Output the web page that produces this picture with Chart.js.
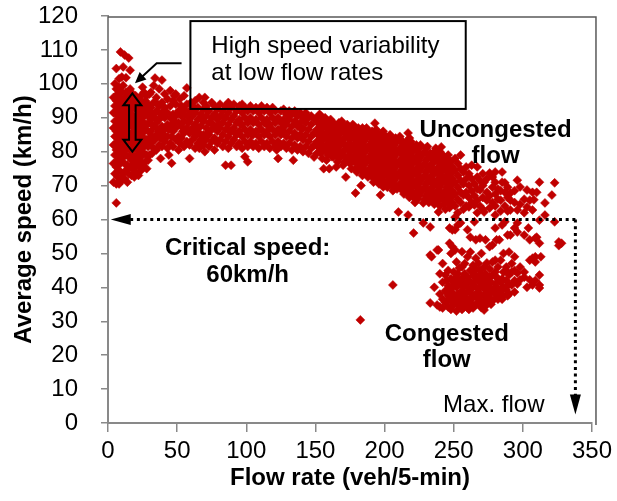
<!DOCTYPE html>
<html>
<head>
<meta charset="utf-8">
<script src="https://cdn.jsdelivr.net/npm/chart.js@4.4.1/dist/chart.umd.min.js"></script>
<style>
  html, body { margin: 0; padding: 0; background: #fff; }
  #wrap { width: 617px; height: 501px; }
</style>
</head>
<body>
<div id="wrap"><canvas id="speedFlowChart" width="617" height="501"></canvas></div>
<script>
const flowTicks = [0, 50, 100, 150, 200, 250, 300, 350]
const speedTicks = [0, 10, 20, 30, 40, 50, 60, 70, 80, 90, 100, 110, 120]

// each row: flow rate (veh/5-min), then the average speeds (km/h) read at that flow
const lowFlowRows = [
    [4, 71, 76.5, 82, 87, 91.5, 96],
    [5, 73.5, 79, 84.5, 89, 93.5, 100],
    [6, 64.9, 70.5, 75.5, 80.5, 86, 91, 95, 98.5, 104.5],
    [7, 72.5, 77.5, 83, 88, 92.5, 97],
    [8, 70.5, 74.5, 79.5, 85, 89.5, 94, 99, 101.5],
    [9, 72, 76.5, 81.5, 87, 91, 95.5, 109.4],
    [10, 71.5, 78, 83.5, 88.5, 93, 97.5, 102],
    [11, 73.5, 80, 85.5, 90, 94.5, 99.5, 105],
    [12, 72, 76.5, 82, 87, 91.5, 96, 108.5],
    [13, 74.5, 79, 84, 89, 93, 97.5, 101.8],
    [14, 71, 76, 81, 86, 90.5, 95],
    [15, 73.5, 78.5, 83.5, 88, 92, 96.5, 107.6],
    [16, 75.5, 80.5, 85, 89.5, 94, 98.5, 104],
    [17, 73, 77.5, 82.5, 87.5, 91, 95.5],
    [18, 75, 79, 84, 88.5, 93, 97],
    [19, 72.5, 76.5, 81, 86, 90, 94.5],
    [20, 74, 78.5, 83.5, 88, 92.5, 96.5],
    [21, 76, 80.5, 85, 89.5, 94],
    [22, 73, 77.5, 82, 86.5, 91, 95.5],
    [23, 75.5, 79.5, 84, 88.5, 93],
    [24, 74.5, 78.5, 83, 87.5, 92, 96.5],
    [25, 76.5, 81, 85.5, 90, 94.5, 99],
    [26, 75.5, 79.5, 84, 88.5, 93, 97.5],
    [27, 77, 82, 86.5, 91, 95],
    [28, 75, 79, 83.5, 88, 92.5, 96.5],
    [29, 77.5, 81.5, 86, 90.5, 94],
    [30, 79, 84, 88.5, 92, 97]
]

const freeFlowRows = [
    [31, 82.5, 86, 89.5, 93, 97.5], [32, 79.5, 84.5, 91], [33, 81, 87.5, 94.5, 99.5],
    [34, 83.5, 90, 101.7], [35, 80.5, 85, 88.5, 92, 96], [36, 86.5, 94], [37, 82, 86, 89.5, 93.5, 98.5],
    [38, 78, 84, 91], [39, 81.5, 87.5, 94.5, 101.1], [40, 85, 92], [41, 83, 86.5, 90, 93, 97],
    [43, 81, 84.5, 88, 91.5, 95.5], [44, 79, 86.5], [45, 82.5, 90, 93.5, 98],
    [46, 76.6, 84.5, 88], [47, 81.5, 86, 91, 95], [48, 89, 96.5], [49, 83.5, 87, 90.5, 94, 97],
    [51, 80.5, 84.5, 88.5, 92], [52, 82.5, 95.5], [53, 84, 87.5, 90.5, 93.5], [54, 86, 91.5],
    [55, 81.5, 85.5, 89, 92.5, 96.5], [57, 83, 87, 90.5, 94, 98.8], [58, 88.5], [59, 78, 82, 85.5, 89, 92],
    [60, 94.5], [61, 83.5, 87, 90.5, 93.5], [62, 85.5, 92], [63, 81, 84.5, 88, 91.5, 95], [64, 86.5],
    [65, 82.5, 89.5, 93], [66, 81, 85.5, 96], [67, 83.5, 87.5, 91], [68, 89.5], [69, 82, 85, 89, 92.5, 94.5],
    [70, 80, 96], [71, 83.5, 87, 90.5, 93.5], [72, 85.5, 92], [73, 81.5, 85, 88.5, 92], [75, 83, 86.5, 90, 94.5],
    [76, 88], [77, 80.5, 84, 87.5, 91, 93.5], [79, 82.5, 86, 89.5, 92.5], [80, 88], [81, 83.5, 87, 90.5, 94],
    [83, 81.5, 85, 88.5, 92], [84, 90], [85, 76, 83, 86.5, 90, 93.5], [87, 81, 84.5, 88, 91.5, 94.5],
    [88, 86], [89, 76, 82.5, 86, 89.5, 93], [91, 83.5, 87, 90.5, 94], [92, 85.5], [93, 81.5, 85, 88.5, 92],
    [95, 82.5, 86, 89.5, 93.5], [96, 88], [97, 81, 84.5, 88, 91.5, 94], [99, 78.5, 83, 86.5, 90, 93],
    [101, 77, 81.5, 85, 88.5, 92], [103, 83, 86.5, 90, 93.5], [104, 85], [105, 81.5, 85, 88.5, 92],
    [107, 82.5, 86, 89.5, 93], [109, 81, 84.5, 88, 91.5], [110, 86.5], [111, 83, 86.5, 90, 93.5],
    [113, 81.5, 85, 88.5, 92], [115, 82.5, 86, 89.5, 93], [116, 87.5], [117, 81, 84.5, 88, 91.5],
    [119, 83, 86.5, 90, 93], [121, 81.5, 85, 88.5, 92], [122, 80.5], [123, 78, 83, 86.5, 90],
    [125, 81.5, 85, 88.5, 92], [126, 87], [127, 82.5, 86, 89.5, 92.5], [129, 81, 84.5, 88, 91],
    [131, 82.5, 86, 89.5, 92], [133, 80.5, 84, 87.5, 91], [134, 77.5], [135, 82, 85.5, 89, 92],
    [137, 80.5, 84, 87.5, 90.5], [139, 81.5, 85, 88.5, 91.5], [140, 86.5], [141, 80, 83.5, 87, 90],
    [143, 81.5, 85, 88.5, 91.5], [145, 79.5, 83, 86.5, 90], [147, 81, 84.5, 88, 90.5],
    [149, 78.4, 82, 85.5, 89.6]
]

const transitionRows = [
    [151, 79.5, 83, 86.5, 90], [152, 81.5, 85, 88.5], [153, 81, 84.5, 88, 91], [154, 79.5, 83, 86.5, 90.5],
    [155, 78, 82, 85.5, 89], [156, 75], [157, 80.5, 84, 87.5, 90], [158, 77.5, 81, 84.5, 88],
    [159, 79, 82.5, 86, 89], [160, 75], [161, 80, 83.5, 87, 89.5], [162, 78.5, 81.5, 85, 88.5],
    [163, 78.5, 82, 85.5, 88.5], [164, 80.5, 84, 87.5], [165, 75.5, 80, 83.5, 87], [166, 77, 79.5, 83, 86.5],
    [167, 78, 81.5, 85, 88.5], [168, 80, 83.5, 87], [169, 79.5, 83, 86.5, 89], [170, 76, 79, 82.5, 86],
    [171, 77, 80.5, 84, 87.5], [172, 72.5], [173, 78.5, 82, 85.5, 88], [174, 77.5, 80.5, 84, 87],
    [175, 76.5, 80, 83.5, 87], [176, 75, 78.5, 82, 85.5], [177, 78, 81.5, 85, 88], [178, 77, 80.5, 84, 87.5],
    [179, 67.8, 75, 79, 82.5, 86], [180, 74, 78, 81.5, 85], [181, 76.5, 80, 83.5, 87],
    [182, 75.5, 79, 82.5, 86], [183, 70, 74.5, 78, 81.5, 85], [184, 73, 76.5, 80, 83.5, 87],
    [185, 76, 79.5, 83, 86.5], [186, 74.5, 78, 81.5, 85], [187, 73.5, 77, 80.5, 84, 87], [188, 72.5],
    [189, 75, 78.5, 82, 85.5], [190, 73.5, 77, 80.5, 84], [191, 72.5, 76, 79.5, 83, 86],
    [192, 71, 74.5, 78, 81.5, 85], [193, 74, 77.5, 81, 84.5, 88.4], [194, 72.5, 76, 79.5, 83, 86.5],
    [195, 72, 75.5, 79, 82.5, 85.5], [196, 70.5, 74, 77.5, 81, 84.5], [197, 67.2, 73.5, 77, 80.5, 84],
    [198, 71.5, 75, 78.5, 82, 85], [199, 69.6, 72.5, 76, 79.5, 83, 86], [200, 70, 73.5, 77, 80.5, 83.5],
    [201, 71, 74.5, 78, 81.5, 84.5], [202, 69.5, 73, 76.5, 80, 83], [203, 72.5, 76, 79.5, 83],
    [204, 71, 74.5, 78, 81.5, 85], [205, 70, 73.5, 77, 80.5, 84], [206, 68.5, 72, 75.5, 79, 82.5],
    [207, 71.5, 75, 78.5, 82], [208, 70, 73.5, 77, 80.5, 84], [209, 69, 72.5, 76, 79.5, 83], [210, 62.2],
    [211, 70.5, 74, 77.5, 81, 84.5], [212, 69.5, 73, 76.5, 80, 83.5], [213, 68.5, 72, 75.5, 79, 82.5],
    [214, 67.5, 71, 74.5, 78, 81.5], [215, 70, 73.5, 77, 80.5], [216, 69, 72.5, 76, 79.5, 83],
    [217, 61.3, 67.5, 71, 74.5, 78, 81.5, 85.5], [218, 66.5, 70, 73.5, 77, 80.5, 84],
    [219, 69, 72.5, 76, 79.5, 83], [220, 68, 71.5, 75, 78.5, 82], [221, 66.5, 70, 73.5, 77, 80.5], [222, 65],
    [223, 68, 71.5, 75, 78.5, 82], [224, 66, 69.5, 73, 76.5, 80], [225, 67, 70.5, 74, 77.5, 81],
    [226, 68, 71.5, 75, 78.5, 82], [227, 68.5, 72, 75.5, 79], [228, 64.9], [229, 66, 69.5, 73, 76.5, 80],
    [230, 67, 70.5, 74, 77.5, 81], [231, 67.5, 71, 74.5, 78, 81.5], [232, 65, 68.5, 72, 75.5, 79],
    [233, 66.3, 69, 72.5, 76, 79.5], [234, 67.5, 71, 74.5, 78], [235, 65.5, 68, 71.5, 75, 78.5],
    [236, 64.5, 66.5, 70, 73.5, 77, 80], [237, 67, 70.5, 74, 77.5, 81], [238, 67.5, 71, 74.5, 78],
    [239, 62.2, 65.5, 68.7, 72, 75.5, 79], [240, 64, 69.5, 73, 76.5, 80], [241, 67, 70.5, 74, 77, 81.4],
    [242, 66, 72.5, 76, 79], [243, 64.5, 68, 71.5, 75, 78.5], [244, 63, 67.5, 71, 74.5, 78],
    [245, 66, 69.5, 73, 76.5], [246, 65, 68.5, 72, 75.5, 79], [247, 63.5, 67, 70.5, 74, 77.5],
    [248, 66.5, 70, 73.5, 77], [249, 65, 68.5, 72, 75.5]
]

const nearCapacityRows = [
    [251, 60.7, 64, 67.5, 71, 74.5, 78], [253, 62, 66, 69.5, 73, 76.5], [255, 65, 68, 71.5, 75, 79],
    [257, 63, 67.2, 70.5, 74], [259, 64, 68, 72, 75.5], [261, 63.7, 66.5, 70, 73.5],
    [263, 65, 68.5, 72, 76], [265, 64.3, 67, 70.5], [267, 62, 65.7, 69, 72.5, 75.5],
    [269, 64, 68.7, 71.5], [271, 63, 66.5, 70, 73.5], [272, 62.2, 71], [274, 65.7, 68, 72],
    [276, 63.4, 67, 73.7], [278, 65, 69.5, 72.5], [280, 61.3, 64, 67.5, 71, 74], [282, 66, 69],
    [284, 62.5, 65.7, 68.5], [285, 71, 74], [287, 64, 68, 70.8], [289, 62.5, 66.5, 69.5],
    [291, 62.8, 65.7, 67.8], [294, 65, 68.5], [296, 62.8, 71.6], [298, 64.5, 69.6],
    [301, 62, 66], [303, 63.7, 68.7], [305, 65.7], [307, 62.8, 68], [308, 65.8], [310, 68],
    [312, 71], [316, 64.9, 61.3], [321, 67.2], [323, 70.8, 59.3]
]

const criticalBandRows = [
    [221, 56], [228, 59], [233, 57.8], [234, 49], [239, 51], [247, 57.5, 53], [249, 56.9, 52],
    [251, 57, 51], [253, 58.4], [255, 59], [260, 57], [262, 54.8], [265, 59.3], [266, 54],
    [269, 54.5], [273, 54], [276, 52], [278, 52.5], [280, 57.5], [281, 54], [283, 54],
    [285, 58.4], [287, 59.3], [289, 55.4], [291, 55.4], [294, 57.5], [296, 56.3, 59],
    [301, 55.4], [304, 57.5], [305, 54], [309, 54.5], [310, 54.8], [312, 53, 59.8],
    [326, 53.4, 52.3], [328, 53]
]

const congestedRows = [
    [233, 35.4, 49.5], [236, 40], [238, 34.8, 51], [240, 34.2, 38, 44], [242, 33.9, 36.5, 41.5, 47],
    [244, 35.5, 39, 43.6], [245, 36, 38.5, 42], [246, 34.2, 37.5, 40.5, 45], [248, 33.5, 36, 39.5, 42.5, 50],
    [249, 34.5, 37, 40.5], [250, 35, 38, 41.5, 44.5], [252, 33, 36.5, 40, 43, 47.5], [253, 35, 38, 41.5, 44],
    [254, 34.5, 37.5, 41, 45.7], [256, 33.5, 36, 39, 42.5, 46, 50.5], [257, 34, 37, 40, 43],
    [258, 35, 38, 41, 44, 47], [260, 34, 36.5, 40, 43, 49], [261, 33.5, 36.5, 39, 42],
    [262, 35.5, 38.5, 41.5, 45, 50.4], [264, 33.9, 37, 40, 43.5, 46.5], [265, 34.5, 37.5, 40.5, 44],
    [266, 35, 38, 42, 45.5, 48.6], [268, 36.5, 39.5, 43, 47], [269, 35, 38, 41.5, 45],
    [270, 34, 37.5, 41, 44, 50], [272, 33.3, 36, 39.5, 42.5, 46], [273, 34.5, 37.5, 40.5, 44],
    [274, 35.5, 38.5, 41.5, 47.2], [276, 37, 40, 43, 45.5], [277, 35, 38.5, 41.5], [278, 36, 39, 43.6, 47.5],
    [280, 38, 41, 44.5, 48], [281, 37, 40, 43], [282, 36.5, 39.5, 42.5, 46], [284, 38, 41.5, 48],
    [285, 36.5, 39.5, 42.5], [286, 37.5, 40, 44.5, 50], [288, 39.2, 42, 46], [289, 37.5, 40.5, 44.5],
    [290, 38, 41, 43.6, 50.4], [292, 40.7, 44.5, 47], [294, 38.6, 42, 45, 49], [296, 41, 44.2],
    [298, 42.2, 46], [301, 43, 44.5], [303, 40], [305, 42.2, 48], [307, 40.7, 48.6],
    [309, 42, 47.5, 49], [312, 39.8, 40.7, 43.6], [313, 49]
]

const strayRows = [
    [182.5, 30.4], [206, 40.7]
]

const criticalSpeed = 60
const maxFlow = 338

const toPoints = rows => rows.flatMap(([flow, ...speeds]) => speeds.map(speed => ({ x: flow, y: speed })))

const allPoints = [
    ...toPoints(lowFlowRows), ...toPoints(freeFlowRows), ...toPoints(transitionRows),
    ...toPoints(nearCapacityRows), ...toPoints(criticalBandRows), ...toPoints(congestedRows),
    ...toPoints(strayRows)
]

const FONT = '"Liberation Sans", Arial, sans-serif'
Chart.defaults.font.family = FONT

const drawHead = (ctx, tipX, tipY, fromX, fromY, length, half) => {
    const angle = Math.atan2(tipY - fromY, tipX - fromX)
    ctx.save()
    ctx.translate(tipX, tipY)
    ctx.rotate(angle)
    ctx.setLineDash([])
    ctx.beginPath()
    ctx.moveTo(0, 0)
    ctx.lineTo(-length, -half)
    ctx.lineTo(-length, half)
    ctx.closePath()
    ctx.fill()
    ctx.restore()
}

const annotations = {
    id: 'annotations',
    afterDatasetsDraw(chart) {
        const { ctx, chartArea, scales: { x, y } } = chart
        const px = v => x.getPixelForValue(v)
        const py = v => y.getPixelForValue(v)
        ctx.save()

        // plot area frame, top and right
        ctx.strokeStyle = '#595959'
        ctx.lineWidth = 1.5
        ctx.beginPath()
        ctx.moveTo(chartArea.left, chartArea.top + 1)
        ctx.lineTo(chartArea.right + 4, chartArea.top + 1)
        ctx.lineTo(chartArea.right + 4, chartArea.bottom + 2)
        ctx.stroke()

        // critical speed and max flow dotted arrows
        ctx.strokeStyle = '#000'
        ctx.fillStyle = '#000'
        ctx.lineWidth = 3
        ctx.setLineDash([3, 3.7])
        const cornerX = px(maxFlow), cornerY = py(criticalSpeed)
        const leftTip = px(2), bottomTip = py(2.5)
        ctx.beginPath()
        ctx.moveTo(cornerX, cornerY)
        ctx.lineTo(leftTip + 18, cornerY)
        ctx.moveTo(cornerX, cornerY)
        ctx.lineTo(cornerX, bottomTip - 18)
        ctx.stroke()
        drawHead(ctx, leftTip, cornerY, cornerX, cornerY, 20, 5.5)
        drawHead(ctx, cornerX, bottomTip, cornerX, cornerY, 20, 5.5)
        ctx.setLineDash([])

        // callout box
        ctx.lineWidth = 2
        ctx.strokeRect(px(59.6), py(118.5), px(258.7) - px(59.6), py(92.6) - py(118.5))
        ctx.font = '24px ' + FONT
        ctx.textAlign = 'left'
        ctx.textBaseline = 'alphabetic'
        ctx.fillText('High speed variability', px(74.7), py(109.1))
        ctx.fillText('at low flow rates', px(74.7), py(101.1))

        // callout pointer
        const tipX = px(19.5), tipY = py(100.2)
        const bendX = px(35.2), bendY = py(106.1)
        ctx.beginPath()
        ctx.moveTo(px(53.2), bendY)
        ctx.lineTo(bendX, bendY)
        ctx.lineTo(tipX + 6, tipY - 5.5)
        ctx.stroke()
        drawHead(ctx, tipX, tipY, bendX, bendY, 11, 5)

        // hollow double arrow for the speed spread
        const cx = px(17.6), top = py(97.2), bot = py(80)
        const hl = 12, hw = 9, sw = 3.3
        ctx.beginPath()
        ctx.moveTo(cx, top)
        ctx.lineTo(cx + hw, top + hl)
        ctx.lineTo(cx + sw, top + hl)
        ctx.lineTo(cx + sw, bot - hl)
        ctx.lineTo(cx + hw, bot - hl)
        ctx.lineTo(cx, bot)
        ctx.lineTo(cx - hw, bot - hl)
        ctx.lineTo(cx - sw, bot - hl)
        ctx.lineTo(cx - sw, top + hl)
        ctx.lineTo(cx - hw, top + hl)
        ctx.closePath()
        ctx.stroke()

        // region labels
        ctx.textAlign = 'center'
        ctx.font = 'bold 24px ' + FONT
        ctx.fillText('Uncongested', px(280.3), py(84.3))
        ctx.fillText('flow', px(280.3), py(76.7))
        ctx.fillText('Critical speed:', px(101), py(49.5))
        ctx.fillText('60km/h', px(101), py(41.6))
        ctx.fillText('Congested', px(245), py(24.2))
        ctx.fillText('flow', px(245), py(16.5))
        ctx.font = '24px ' + FONT
        ctx.fillText('Max. flow', px(279), py(3.2))

        ctx.restore()
    }
}

const axisGrey = '#898989'

new Chart(document.getElementById('speedFlowChart'), {
    type: 'scatter',
    data: {
        datasets: [{
            label: 'Observed 5-min records',
            data: allPoints,
            pointStyle: 'rectRot',
            pointRadius: 4.5,
            pointBorderWidth: 0.5,
            backgroundColor: '#C00000',
            borderColor: '#C00000'
        }]
    },
    options: {
        responsive: false,
        animation: false,
        devicePixelRatio: 1,
        events: [],
        layout: { padding: { top: 16, right: 22, left: 0, bottom: 0 } },
        plugins: { legend: { display: false }, tooltip: { enabled: false } },
        scales: {
            x: {
                type: 'linear',
                min: flowTicks[0],
                max: flowTicks[flowTicks.length - 1],
                afterBuildTicks: scale => { scale.ticks = flowTicks.map(value => ({ value })) },
                afterFit: scale => { scale.height = 78 },
                ticks: { color: '#000', font: { size: 24 }, padding: 5, maxRotation: 0, autoSkip: false },
                grid: { drawOnChartArea: false, tickLength: 9, color: axisGrey, lineWidth: 1.5 },
                border: { color: axisGrey, width: 2 },
                title: {
                    display: true,
                    text: 'Flow rate (veh/5-min)',
                    color: '#000',
                    font: { size: 24, weight: 'bold' },
                    padding: { top: 0, bottom: 8.5 }
                }
            },
            y: {
                type: 'linear',
                min: speedTicks[0],
                max: speedTicks[speedTicks.length - 1],
                afterBuildTicks: scale => { scale.ticks = speedTicks.map(value => ({ value })) },
                afterFit: scale => {
                    scale.width = 108
                    scale.paddingTop = 10
                    scale.paddingBottom = 10
                },
                ticks: { color: '#000', font: { size: 24 }, padding: 23, autoSkip: false },
                grid: { drawOnChartArea: false, tickLength: 7, color: axisGrey, lineWidth: 1.5 },
                border: { color: axisGrey, width: 2 },
                title: {
                    display: true,
                    text: 'Average speed (km/h)',
                    color: '#000',
                    font: { size: 24, weight: 'bold' },
                    padding: { top: 9.6, bottom: 0 }
                }
            }
        }
    },
    plugins: [annotations]
})
</script>
</body>
</html>
